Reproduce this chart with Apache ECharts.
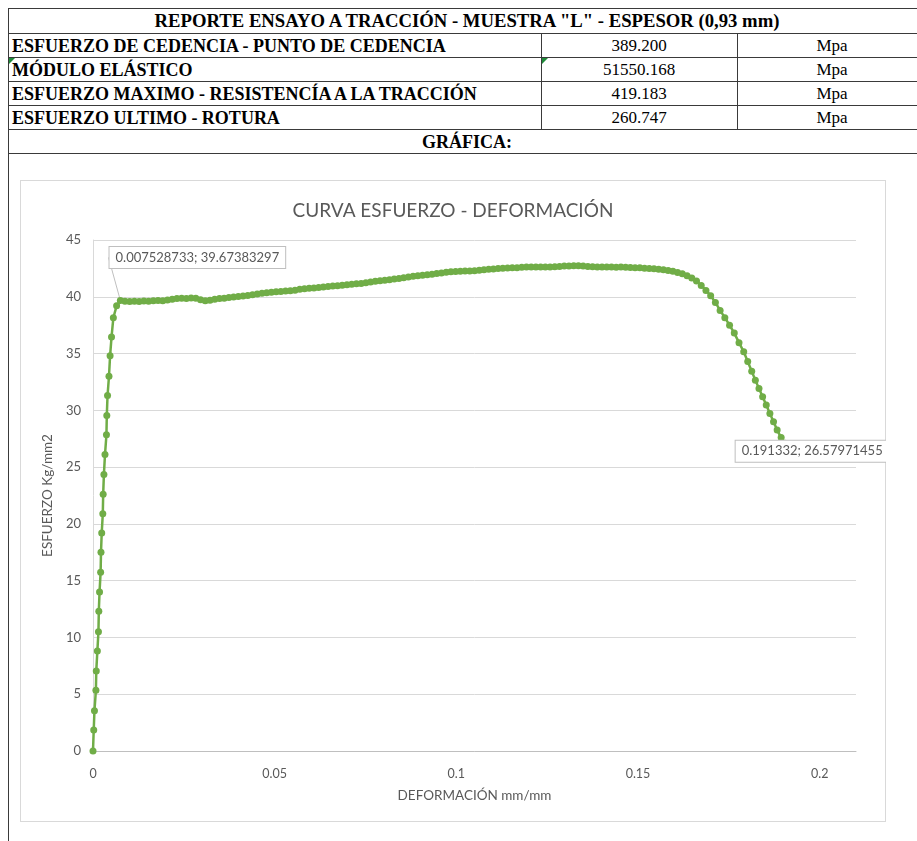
<!DOCTYPE html>
<html>
<head>
<meta charset="utf-8">
<title>Reporte ensayo a tracción - Muestra L</title>
<script src="https://cdn.jsdelivr.net/npm/echarts@6/dist/echarts.min.js"></script>
<style>
  html, body { margin: 0; padding: 0; background: #fff; }
  body { width: 917px; height: 841px; position: relative; overflow: hidden; font-family: "Liberation Serif", "Times New Roman", serif; color: #000; }
  .h { position: absolute; height: 1px; background: #3a3a3a; }
  .v { position: absolute; width: 1px; background: #3a3a3a; }
  .t { position: absolute; white-space: nowrap; line-height: 24px; height: 24px; }
  .b { font-weight: bold; font-size: 18px; }
  .n { font-size: 17px; text-align: center; }
  .flag { position: absolute; width: 0; height: 0; border-top: 6px solid #1f8a3a; border-right: 6px solid transparent; }
  #frame { position: absolute; left: 20px; top: 180px; width: 866px; height: 642px; box-sizing: border-box; border: 1px solid #d9d9d9; }
  #chart { position: absolute; left: 20px; top: 180px; width: 866px; height: 642px; }
</style>
</head>
<body>
<!-- report table -->
<div class="h" style="left:8px;top:8px;width:909px"></div>
<div class="h" style="left:8px;top:33px;width:909px"></div>
<div class="h" style="left:8px;top:57px;width:909px"></div>
<div class="h" style="left:8px;top:81px;width:909px"></div>
<div class="h" style="left:8px;top:105px;width:909px"></div>
<div class="h" style="left:8px;top:129px;width:909px"></div>
<div class="h" style="left:8px;top:153px;width:909px"></div>
<div class="v" style="left:8px;top:8px;height:833px"></div>
<div class="v" style="left:541px;top:33px;height:97px"></div>
<div class="v" style="left:737px;top:33px;height:97px"></div>
<div class="flag" style="left:9px;top:58px"></div>
<div class="flag" style="left:542px;top:58px"></div>

<div class="t b" style="left:8px;width:918px;top:9px;text-align:center;font-size:18.7px">REPORTE ENSAYO A TRACCIÓN - MUESTRA "L" - ESPESOR (0,93 mm)</div>

<div class="t b" style="left:12px;top:34px">ESFUERZO DE CEDENCIA - PUNTO DE CEDENCIA</div>
<div class="t n" style="left:541px;width:196px;top:34px">389.200</div>
<div class="t n" style="left:737px;width:190px;top:34px">Mpa</div>

<div class="t b" style="left:12px;top:58px">MÓDULO ELÁSTICO</div>
<div class="t n" style="left:541px;width:196px;top:58px">51550.168</div>
<div class="t n" style="left:737px;width:190px;top:58px">Mpa</div>

<div class="t b" style="left:12px;top:82px">ESFUERZO MAXIMO - RESISTENCÍA A LA TRACCIÓN</div>
<div class="t n" style="left:541px;width:196px;top:82px">419.183</div>
<div class="t n" style="left:737px;width:190px;top:82px">Mpa</div>

<div class="t b" style="left:12px;top:106px">ESFUERZO ULTIMO - ROTURA</div>
<div class="t n" style="left:541px;width:196px;top:106px">260.747</div>
<div class="t n" style="left:737px;width:190px;top:106px">Mpa</div>

<div class="t b" style="left:8px;width:918px;top:130px;text-align:center">GRÁFICA:</div>

<div id="frame"></div>
<div id="chart"></div>

<script>
// Stress–strain readings (strain in mm/mm, stress in kg/mm2)

// Elastic zone up to the yield point
const strainElastic = [0, 0.0002, 0.0004, 0.0008, 0.0009, 0.0012, 0.0015, 0.0016, 0.0018, 0.0021, 0.0022, 0.0024,
  0.0027, 0.0028, 0.0030, 0.0033, 0.0037, 0.0038, 0.0040, 0.0044, 0.0047, 0.0051, 0.0056, 0.0065];
const stressElastic = [0, 1.85, 3.55, 5.35, 7.05, 8.8, 10.5, 12.3, 14.0, 15.75, 17.5, 19.2,
  20.9, 22.6, 24.35, 26.1, 27.85, 29.55, 31.3, 33.0, 34.8, 36.45, 38.15, 39.2];

// Yield point (labelled)
const yieldPoint = [0.007528733, 39.67383297];

// Plastic zone: hardening plateau up to necking
const strainPlastic = [
  0.0088, 0.0101, 0.0114, 0.0127, 0.0140, 0.0153, 0.0166, 0.0179, 0.0192, 0.0205,
  0.0218, 0.0231, 0.0244, 0.0257, 0.0270, 0.0283, 0.0296, 0.0309, 0.0322, 0.0335,
  0.0348, 0.0361, 0.0374, 0.0387, 0.0400, 0.0413, 0.0426, 0.0439, 0.0452, 0.0465,
  0.0478, 0.0491, 0.0504, 0.0517, 0.0530, 0.0543, 0.0556, 0.0569, 0.0582, 0.0595,
  0.0608, 0.0621, 0.0634, 0.0647, 0.0660, 0.0673, 0.0686, 0.0699, 0.0712, 0.0725,
  0.0738, 0.0751, 0.0764, 0.0777, 0.0790, 0.0803, 0.0816, 0.0829, 0.0842, 0.0855,
  0.0868, 0.0881, 0.0894, 0.0907, 0.0920, 0.0933, 0.0946, 0.0959, 0.0972, 0.0985,
  0.0998, 0.1011, 0.1024, 0.1037, 0.1050, 0.1063, 0.1076, 0.1089, 0.1102, 0.1115,
  0.1128, 0.1141, 0.1154, 0.1167, 0.1180, 0.1193, 0.1206, 0.1219, 0.1232, 0.1245,
  0.1258, 0.1271, 0.1284, 0.1297, 0.1310, 0.1323, 0.1336, 0.1349, 0.1362, 0.1375,
  0.1388, 0.1401, 0.1414, 0.1427, 0.1440, 0.1453, 0.1466, 0.1479, 0.1492, 0.1505,
  0.1518, 0.1531, 0.1544, 0.1557, 0.1570, 0.1583, 0.1596, 0.1609, 0.1622, 0.1635];
const stressPlastic = [
  39.60, 39.58, 39.60, 39.58, 39.62, 39.60, 39.65, 39.68, 39.66, 39.72,
  39.78, 39.85, 39.88, 39.84, 39.90, 39.86, 39.74, 39.66, 39.70, 39.78,
  39.84, 39.88, 39.94, 39.98, 40.02, 40.06, 40.12, 40.18, 40.24, 40.30,
  40.36, 40.40, 40.44, 40.47, 40.50, 40.53, 40.58, 40.66, 40.70, 40.74,
  40.78, 40.82, 40.86, 40.90, 40.94, 40.98, 41.02, 41.06, 41.10, 41.14,
  41.18, 41.24, 41.30, 41.36, 41.42, 41.46, 41.50, 41.56, 41.62, 41.68,
  41.74, 41.80, 41.86, 41.90, 41.94, 41.98, 42.04, 42.10, 42.16, 42.20,
  42.22, 42.24, 42.26, 42.27, 42.30, 42.34, 42.38, 42.42, 42.45, 42.48,
  42.52, 42.54, 42.55, 42.56, 42.60, 42.62, 42.62, 42.63, 42.62, 42.62,
  42.63, 42.64, 42.66, 42.70, 42.72, 42.74, 42.74, 42.70, 42.66, 42.64,
  42.63, 42.62, 42.63, 42.62, 42.61, 42.62, 42.60, 42.58, 42.56, 42.55,
  42.52, 42.48, 42.46, 42.42, 42.38, 42.32, 42.24, 42.14, 42.02, 41.86];

// Necking and fracture
const strainFracture = [0.1648, 0.1661, 0.1674, 0.1687, 0.1700, 0.1713, 0.1726, 0.1739, 0.1752, 0.1765,
  0.1778, 0.1791, 0.1802, 0.1813, 0.1823, 0.1833, 0.1843, 0.1853, 0.1863, 0.1873, 0.1883, 0.1894, 0.1904];
const stressFracture = [41.66, 41.40, 41.00, 40.56, 40.10, 39.50, 38.80, 38.16, 37.50, 36.80,
  35.96, 35.16, 34.30, 33.44, 32.66, 31.92, 31.20, 30.46, 29.72, 29.00, 28.26, 27.60, 27.10];

// Rupture point (labelled)
const rupturePoint = [0.191332, 26.57971455];

// Axis settings
const xTicks = [0, 0.05, 0.1, 0.15, 0.2];
const yTicks = [0, 5, 10, 15, 20, 25, 30, 35, 40, 45];

const pairs = (xs, ys) => xs.map((x, i) => [x, ys[i]]);
const font = 'Lato, "Open Sans", sans-serif';
const labelBox = {
  show: true,
  position: 'inside',
  formatter: p => p.value[0] + '; ' + p.value[1],
  color: '#595959',
  fontFamily: font,
  fontSize: 13,
  backgroundColor: '#ffffff',
  borderColor: '#bfbfbf',
  borderWidth: 1,
  padding: [4, 6, 4, 6]
};

const points = [
  ...pairs(strainElastic, stressElastic),
  { value: yieldPoint, label: labelBox },
  ...pairs(strainPlastic, stressPlastic),
  ...pairs(strainFracture, stressFracture),
  { value: rupturePoint, label: labelBox, labelLine: { show: false } }
];
const yieldIndex = strainElastic.length;
const ruptureIndex = points.length - 1;

const chart = echarts.init(document.getElementById('chart'), null, { renderer: 'canvas' });
chart.setOption({
  animation: false,
  backgroundColor: 'transparent',
  textStyle: { fontFamily: font },
  title: {
    text: 'CURVA ESFUERZO - DEFORMACIÓN',
    left: 'center',
    top: 16,
    textStyle: { fontFamily: font, fontSize: 19, fontWeight: 'normal', color: '#595959' }
  },
  grid: { left: 73, right: 30, top: 60, bottom: 71 },
  xAxis: {
    type: 'value',
    min: xTicks[0],
    max: 0.21,
    interval: xTicks[1] - xTicks[0],
    name: 'DEFORMACIÓN mm/mm',
    nameLocation: 'middle',
    nameGap: 38,
    nameTextStyle: { color: '#595959', fontSize: 13.5, fontFamily: font },
    axisLine: { show: true, onZero: false, lineStyle: { color: '#bfbfbf', width: 1 } },
    axisTick: { show: false },
    splitLine: { show: false },
    axisLabel: {
      color: '#595959', fontSize: 12.5, margin: 16, showMaxLabel: false,
      formatter: v => String(Math.round(v * 100) / 100)
    }
  },
  yAxis: {
    type: 'value',
    min: yTicks[0],
    max: yTicks[yTicks.length - 1],
    interval: yTicks[1] - yTicks[0],
    name: 'ESFUERZO Kg/mm2',
    nameLocation: 'middle',
    nameGap: 35,
    nameTextStyle: { color: '#595959', fontSize: 13.5, fontFamily: font },
    axisLine: { show: true, lineStyle: { color: '#d9d9d9', width: 1 } },
    axisTick: { show: false },
    splitLine: { show: true, lineStyle: { color: '#d9d9d9', width: 1 } },
    axisLabel: { color: '#595959', fontSize: 13, margin: 12 }
  },
  series: [{
    type: 'line',
    data: points,
    symbol: 'circle',
    symbolSize: 7,
    showAllSymbol: true,
    lineStyle: { color: '#70AD47', width: 2.5 },
    itemStyle: { color: '#70AD47' },
    labelLine: { show: true, lineStyle: { color: '#bfbfbf', width: 1 } },
    labelLayout: params => {
      if (params.dataIndex === yieldIndex) return { dx: 77, dy: -43 };
      if (params.dataIndex === ruptureIndex) return { dx: 24, dy: 2 };
      return {};
    },
    z: 3
  }]
});
</script>
</body>
</html>
